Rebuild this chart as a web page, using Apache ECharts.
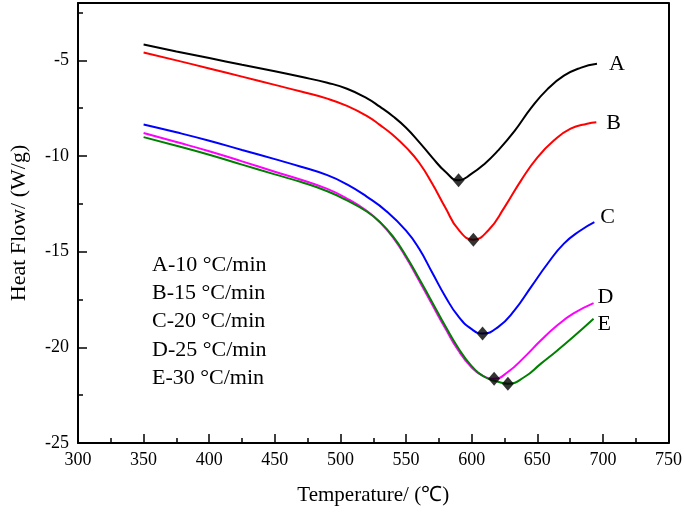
<!DOCTYPE html>
<html>
<head>
<meta charset="utf-8">
<script src="https://cdn.jsdelivr.net/npm/echarts@6/dist/echarts.min.js"></script>
<style>html,body{margin:0;padding:0;background:#fff}#c{width:685px;height:512px}</style>
</head>
<body>
<div id="c"></div>
<script>
const seriesNames = ['A', 'B', 'C', 'D', 'E'];
const rateLabels = ['A-10 \u00B0C/min', 'B-15 \u00B0C/min', 'C-20 \u00B0C/min', 'D-25 \u00B0C/min', 'E-30 \u00B0C/min'];
const xTitle = 'Temperature/ (\u2103)';
const yTitle = 'Heat Flow/ (W/g)';

const tempA = [350, 375, 400, 425, 450, 470, 490, 505, 520, 530, 540, 550, 560, 570, 580, 590, 600, 610, 620, 632.6, 645.2, 657.8, 670.3, 682.9, 695.5];
const flowA = [-4.17, -4.53, -4.88, -5.23, -5.57, -5.86, -6.17, -6.48, -6.97, -7.42, -7.92, -8.52, -9.27, -10.08, -10.82, -11.27, -10.92, -10.40, -9.72, -8.70, -7.50, -6.50, -5.80, -5.39, -5.18];

const tempB = [350, 375, 400, 425, 450, 470, 490, 505, 520, 530, 540, 550, 560, 570, 580, 590, 601.3, 612.6, 625.1, 637.7, 650.3, 662.8, 675.4, 688, 695];
const flowB = [-4.59, -5.00, -5.42, -5.85, -6.28, -6.63, -7.00, -7.38, -7.90, -8.37, -8.90, -9.55, -10.35, -11.45, -12.70, -13.85, -14.37, -13.89, -12.67, -11.27, -10.06, -9.18, -8.57, -8.31, -8.23];

const tempC = [350, 375, 400, 425, 450, 470, 490, 505, 520, 535, 550, 560, 570, 580, 590, 600, 608.3, 620.1, 632.6, 645.2, 657.8, 670.3, 682.9, 693.5];
const flowC = [-8.35, -8.76, -9.20, -9.68, -10.16, -10.56, -11.00, -11.48, -12.12, -12.88, -13.90, -14.85, -16.10, -17.35, -18.40, -19.05, -19.28, -18.94, -18.07, -16.85, -15.63, -14.58, -13.89, -13.45];

const tempD = [350, 375, 400, 425, 450, 470, 490, 505, 520, 530, 540, 550, 560, 570, 580, 590, 600, 608, 617.1, 627.6, 640.2, 652.8, 665.3, 677.3, 692.9];
const flowD = [-8.80, -9.27, -9.75, -10.28, -10.82, -11.24, -11.72, -12.22, -12.86, -13.45, -14.25, -15.30, -16.52, -17.78, -19.02, -20.18, -21.05, -21.47, -21.64, -21.29, -20.51, -19.63, -18.85, -18.24, -17.69];

const tempE = [350, 375, 400, 425, 450, 470, 490, 505, 520, 530, 540, 550, 560, 570, 580, 590, 600, 610, 620, 627.6, 640.2, 652.8, 665.3, 677.3, 692.9];
const flowE = [-9.01, -9.46, -9.93, -10.45, -10.96, -11.36, -11.84, -12.32, -12.90, -13.45, -14.20, -15.22, -16.42, -17.65, -18.90, -20.06, -20.98, -21.55, -21.80, -21.90, -21.55, -20.85, -20.16, -19.46, -18.50];

const peakTemp = [590, 601.3, 608.3, 617.1, 627.6];
const peakFlow = [-11.27, -14.37, -19.28, -21.64, -21.90];

const colors = ['#000000', '#ff0000', '#0000ff', '#ff00ff', '#008000'];
const labelOffsets = [[7, 0], [5, 1], [1, -5], [-1, -6], [-1, 6]];

const temps = [tempA, tempB, tempC, tempD, tempE];
const flows = [flowA, flowB, flowC, flowD, flowE];

const FONT = 'Liberation Serif';
const chart = echarts.init(document.getElementById('c'), null, {renderer: 'canvas'});

const lineSeries = seriesNames.map((n, i) => ({
  name: n,
  type: 'line',
  xAxisIndex: 0,
  yAxisIndex: 0,
  smooth: 0.5,
  showSymbol: false,
  symbol: 'none',
  data: temps[i].map((t, j) => [t, flows[i][j]]),
  lineStyle: {color: colors[i], width: 2},
  itemStyle: {color: colors[i]},
  endLabel: {
    show: true,
    formatter: n,
    fontFamily: FONT,
    fontSize: 22,
    color: '#000',
    distance: 5,
    offset: labelOffsets[i]
  },
  z: 2
}));

const option = {
  animation: false,
  backgroundColor: '#fff',
  grid: {left: 72, top: 3, right: 16, bottom: 69, containLabel: false},
  xAxis: [
    {
      type: 'value', min: 300, max: 750, interval: 50, position: 'bottom',
      axisLine: {show: true, onZero: false, lineStyle: {color: '#000', width: 2}},
      axisTick: {show: true, inside: true, length: 9, lineStyle: {color: '#000', width: 1.5}},
      minorTick: {show: true, splitNumber: 2, length: 5, lineStyle: {color: '#000', width: 1.5}},
      splitLine: {show: false},
      axisLabel: {fontFamily: FONT, fontSize: 18, color: '#000', margin: 8},
      name: xTitle, nameLocation: 'middle', nameGap: 42,
      nameTextStyle: {fontFamily: FONT, fontSize: 21, color: '#000'}
    },
    {
      type: 'value', min: 300, max: 750, position: 'top',
      axisLine: {show: true, onZero: false, lineStyle: {color: '#000', width: 2}},
      axisTick: {show: false}, axisLabel: {show: false}, splitLine: {show: false}
    }
  ],
  yAxis: [
    {
      type: 'value', min: -25, max: -2, interval: 5, position: 'left',
      axisLine: {show: true, onZero: false, lineStyle: {color: '#000', width: 2}},
      axisTick: {show: true, inside: true, length: 9, lineStyle: {color: '#000', width: 1.5}},
      splitLine: {show: false},
      axisLabel: {
        fontFamily: FONT, fontSize: 18, color: '#000', margin: 9,
        formatter: v => (Math.abs(v % 5) < 1e-9 ? String(v) : '')
      },
      name: yTitle, nameLocation: 'middle', nameGap: 48, nameRotate: 90,
      nameTextStyle: {fontFamily: FONT, fontSize: 22, color: '#000'}
    },
    {
      type: 'value', min: -25, max: -2, interval: 2.5, position: 'left',
      axisLine: {show: false},
      axisTick: {show: true, inside: true, length: 5, lineStyle: {color: '#000', width: 1.5}},
      axisLabel: {show: false}, splitLine: {show: false}
    },
    {
      type: 'value', min: -25, max: -2, position: 'right',
      axisLine: {show: true, onZero: false, lineStyle: {color: '#000', width: 2}},
      axisTick: {show: false}, axisLabel: {show: false}, splitLine: {show: false}
    }
  ],
  series: lineSeries.concat([{
    name: 'peaks',
    type: 'scatter',
    xAxisIndex: 0, yAxisIndex: 0,
    symbol: 'diamond',
    symbolSize: [12, 14],
    itemStyle: {color: '#000'},
    data: peakTemp.map((t, i) => [t, peakFlow[i]]),
    z: 5
  }]),
  graphic: rateLabels.map((txt, i) => ({
    type: 'text',
    left: 152,
    top: 254 + i * 28.3,
    style: {text: txt, fontFamily: FONT, fontSize: 22, fill: '#000'}
  }))
};
chart.setOption(option);
</script>
</body>
</html>
